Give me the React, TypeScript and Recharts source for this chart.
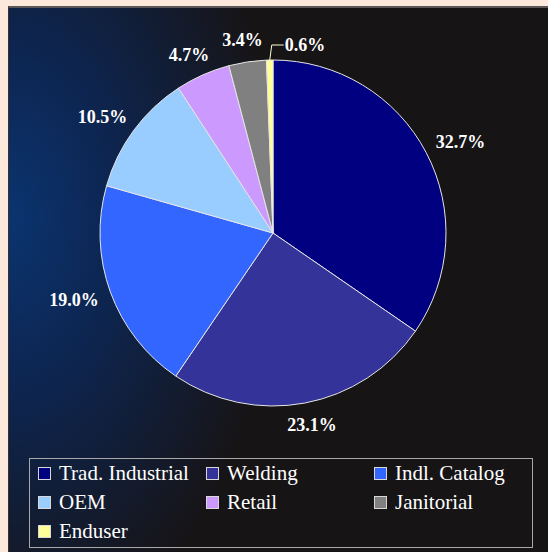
import { Cell, Pie, PieChart } from "recharts"

const categories = ["Trad. Industrial", "Welding", "Indl. Catalog", "OEM", "Retail", "Janitorial", "Enduser"]
const shares = [34.6, 24.9, 19.9, 11.4, 5.1, 3.5, 0.6]
const labelTexts = ["32.7%", "23.1%", "19.0%", "10.5%", "4.7%", "3.4%", "0.6%"]
const colors = ["#000080", "#333399", "#3366ff", "#99ccff", "#cc99ff", "#808080", "#ffff99"]

const data = categories.map((name, i) => ({ name, value: shares[i] }))

const RAD = Math.PI / 180
const FONT = "'Liberation Serif', 'Times New Roman', serif"

function textWidth(s: string) {
  let w = 0
  for (const ch of s) w += ch === "%" ? 1 : ch === "." ? 0.25 : 0.5
  return w * 18
}

const renderLabel = (props: any) => {
  const { cx, cy, midAngle, outerRadius, index } = props
  const cos = Math.cos(midAngle * RAD)
  const sin = Math.sin(midAngle * RAD)
  const text = labelTexts[index]
  const style = { fill: "#ffffff", fontFamily: FONT, fontWeight: 700, fontSize: 18 }

  if (shares[index] < 1) {
    // tiny slice: leader line up and to the right
    const ex = cx + outerRadius * cos
    const ey = cy - outerRadius * sin
    const ty = cy - outerRadius - 15
    return (
      <g>
        <polyline points={`${ex},${ey} ${ex + 2},${ty} ${ex + 14},${ty}`} fill="none" stroke="#ffffcc" strokeWidth={1} />
        <text x={ex + 15} y={ty} textAnchor="start" dominantBaseline="central" style={style}>
          {text}
        </text>
      </g>
    )
  }

  const r = outerRadius + 14
  const px = cx + r * cos
  const py = cy - r * sin
  const w = textWidth(text)
  return (
    <text x={px + (w / 2) * cos} y={py - 8 * sin} textAnchor="middle" dominantBaseline="central" style={style}>
      {text}
    </text>
  )
}

export default function App() {
  return (
    <div style={{ position: "absolute", left: 0, top: 0, width: 548, height: 552, background: "#fde9dc", overflow: "hidden" }}>
      <div
        style={{
          position: "absolute",
          left: 8,
          top: 6,
          width: 540,
          height: 546,
          boxSizing: "border-box",
          borderTop: "2px solid #5c5656",
          borderLeft: "1px solid #3a3030",
          backgroundColor: "#171416",
          backgroundImage: "radial-gradient(ellipse 270px 430px at 0px 210px, #0b3470 0%, #0d2550 40%, #171416 100%)",
        }}
      >
        <PieChart width={539} height={450} margin={{ top: 0, right: 0, bottom: 0, left: 0 }}>
          <Pie
            data={data}
            dataKey="value"
            nameKey="name"
            cx={264}
            cy={225}
            outerRadius={173}
            startAngle={90}
            endAngle={-270}
            stroke="#e6e6e6"
            strokeWidth={1}
            label={renderLabel}
            labelLine={false}
            isAnimationActive={false}
          >
            {data.map((d, i) => (
              <Cell key={d.name} fill={colors[i]} />
            ))}
          </Pie>
        </PieChart>
        <div
          style={{
            position: "absolute",
            left: 20,
            top: 450,
            width: 504,
            height: 90,
            boxSizing: "border-box",
            border: "1px solid #a8a8a8",
            display: "grid",
            gridTemplateColumns: "168px 168px 168px",
            gridAutoRows: "29px",
            paddingLeft: 8,
            paddingTop: 0,
            fontFamily: FONT,
            fontSize: 21,
            color: "#ffffff",
          }}
        >
          {categories.map((c, i) => (
            <div key={c} style={{ display: "flex", alignItems: "center", whiteSpace: "nowrap" }}>
              <span
                style={{
                  display: "inline-block",
                  width: 11,
                  height: 11,
                  background: colors[i],
                  border: "1px solid #d8d8d8",
                  marginRight: 8,
                }}
              />
              {c}
            </div>
          ))}
        </div>
      </div>
    </div>
  )
}
